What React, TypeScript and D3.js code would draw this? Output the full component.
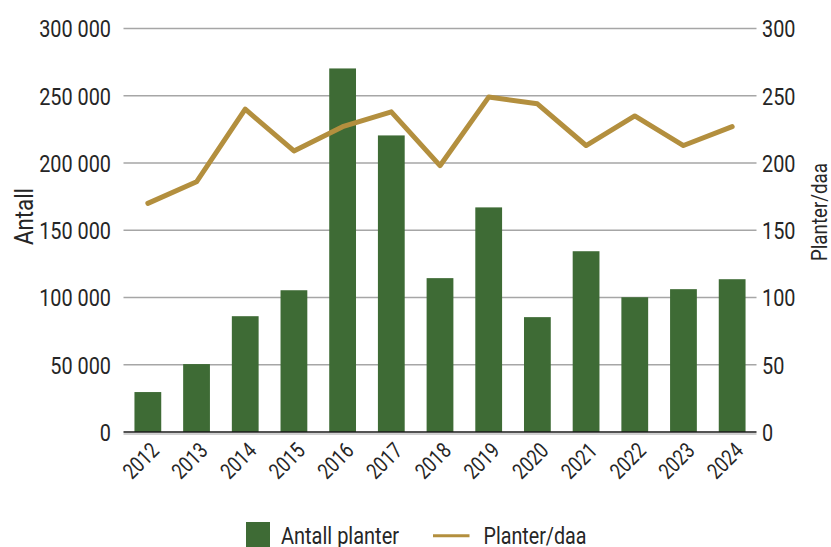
import React from "react";
import * as d3 from "d3";

const years = ["2012","2013","2014","2015","2016","2017","2018","2019","2020","2021","2022","2023","2024"];
const antallPlanter = [29700, 50500, 86100, 105400, 270300, 220500, 114400, 167000, 85400, 134400, 100200, 106200, 113600];
const planterPerDaa = [170, 186, 240, 209, 227, 238, 198, 249, 244, 213, 235, 213, 227];
const leftTicks = [0, 50000, 100000, 150000, 200000, 250000, 300000];
const rightTicks = [0, 50, 100, 150, 200, 250, 300];

const W = 831, H = 547;
const FONT = "Roboto, 'DejaVu Sans Condensed', sans-serif";
const TEXT = "#262626";
const GREEN = "#3E6B35";
const GOLD = "#B38F3E";
const SX = 0.81;

function T({ x, y, rotate = 0, anchor = "start", size, children, dy }: any) {
  return (
    <g transform={`translate(${x},${y}) rotate(${rotate}) scale(${SX},1)`}>
      <text textAnchor={anchor} fontSize={size} fill={TEXT} dy={dy}>{children}</text>
    </g>
  );
}

export default function App() {
  const left = 123.5, right = 756.5, top = 28.5, bottom = 432;
  const x = d3.scaleBand<string>().domain(years).range([left, right]).paddingInner(0.45).paddingOuter(0.225);
  const yL = d3.scaleLinear().domain([0, 300000]).range([bottom, top]);
  const yR = d3.scaleLinear().domain([0, 300]).range([bottom, top]);
  const fmt = (v: number) => d3.format(",")(v).replace(/,/g, " ");
  const line = d3.line<number>()
    .x((_, i) => (x(years[i]) as number) + x.bandwidth() / 2)
    .y((d) => yR(d));

  return (
    <svg width={W} height={H} style={{ position: "absolute", left: 0, top: 0, background: "#fff" }} fontFamily={FONT}>
      {leftTicks.filter(t => t > 0).map((t) => (
        <line key={t} x1={left} x2={right} y1={yL(t)} y2={yL(t)} stroke="#A6A6A6" strokeWidth={1.5} />
      ))}
      {antallPlanter.map((v, i) => (
        <rect key={years[i]} x={x(years[i])} y={yL(v)} width={x.bandwidth()} height={yL(0) - yL(v)} fill={GREEN} />
      ))}
      <line x1={left} x2={right} y1={bottom + 2} y2={bottom + 2} stroke="#D0D0D0" strokeWidth={2} />
      <line x1={left} x2={right} y1={bottom} y2={bottom} stroke="#1a1a1a" strokeWidth={1.5} />
      <path d={line(planterPerDaa) || ""} fill="none" stroke={GOLD} strokeWidth={5} strokeLinejoin="round" strokeLinecap="round" />
      {leftTicks.map((t) => (
        <T key={t} x={111} y={yL(t)} anchor="end" size={24.5} dy="0.36em">{fmt(t)}</T>
      ))}
      {rightTicks.map((t) => (
        <T key={t} x={762} y={yR(t)} anchor="start" size={24.5} dy="0.36em">{t}</T>
      ))}
      {years.map((yr) => (
        <T key={yr} x={(x(yr) as number) + x.bandwidth() / 2 + 12.5} y={452} rotate={-45} anchor="end" size={22}>{yr}</T>
      ))}
      <text transform={`translate(33,216.5) rotate(-90)`} textAnchor="middle" fontSize={26} fill={TEXT} textLength={57} lengthAdjust="spacingAndGlyphs">Antall</text>
      <text transform={`translate(827,212) rotate(-90)`} textAnchor="middle" fontSize={22} fill={TEXT} textLength={98} lengthAdjust="spacingAndGlyphs">Planter/daa</text>
      <rect x={246} y={522} width={24} height={25} fill={GREEN} />
      <text x={281} y={543.5} fontSize={24.5} fill={TEXT} textLength={118} lengthAdjust="spacingAndGlyphs">Antall planter</text>
      <line x1={433} x2={469.5} y1={535.7} y2={535.7} stroke={GOLD} strokeWidth={3} />
      <text x={483.5} y={543.5} fontSize={24.5} fill={TEXT} textLength={103} lengthAdjust="spacingAndGlyphs">Planter/daa</text>
    </svg>
  );
}
